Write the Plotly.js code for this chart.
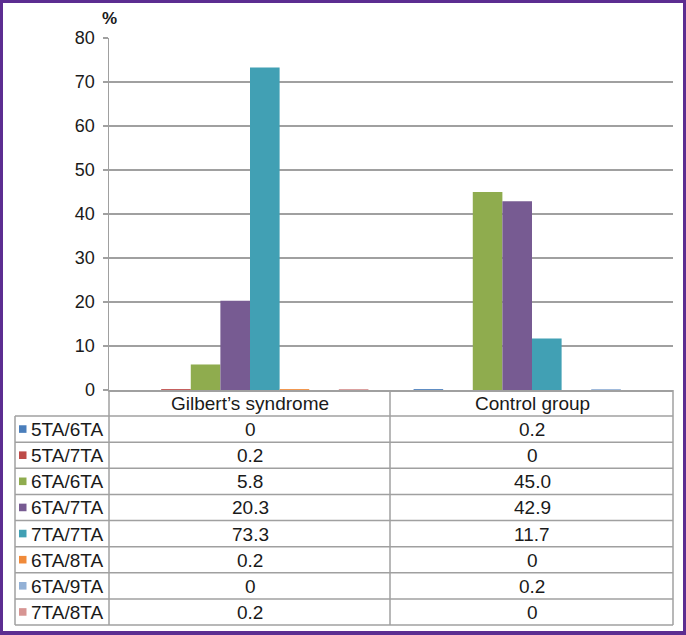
<!DOCTYPE html>
<html>
<head>
<meta charset="utf-8">
<script src="https://cdn.plot.ly/plotly-3.0.1.min.js"></script>
<style>
  html, body { margin: 0; padding: 0; background: #fff; }
  #frame { width: 680px; height: 628px; border-style: solid; border-color: #5c2d91; border-width: 3px 3px 4px 3px; }
  #chart { width: 680px; height: 628px; }
</style>
</head>
<body>
<div id="frame"><div id="chart"></div></div>
<script>
// ---- data ----
const categories = ["Gilbert\u2019s syndrome", "Control group"];
const genotypes = ["5TA/6TA", "5TA/7TA", "6TA/6TA", "6TA/7TA", "7TA/7TA", "6TA/8TA", "6TA/9TA", "7TA/8TA"];
const gilbertValues = [0, 0.2, 5.8, 20.3, 73.3, 0.2, 0, 0.2];
const controlValues = [0.2, 0, 45.0, 42.9, 11.7, 0, 0.2, 0];
const colors = ["#4a7ebb", "#be4b48", "#8fac4e", "#775b92", "#41a0b4", "#f08a3a", "#93b1d6", "#d79593"];
const yTicks = [0, 10, 20, 30, 40, 50, 60, 70, 80];

// ---- geometry (plotly pixel space) ----
const FW = 680, FH = 628;
const L = 106, T = 35, W = 564, H = 352;
const OFF = 3; // css border offset
const fx = px => (px - OFF - L) / W;
const fy = py => 1 - (py - OFF - T) / H;

const FONT = "Liberation Sans, Arial, sans-serif";
const TXT = "#1a1a1a";
const LINE = "#a0a0a0";
const TFS = 19;

const traces = genotypes.map((g, i) => ({
  type: "bar",
  name: g,
  x: categories,
  y: [gilbertValues[i], controlValues[i]],
  marker: { color: colors[i], line: { width: 0 } },
  hoverinfo: "name+y"
}));

// table geometry (page px)
const tLeft = 15, tAxis = 109, tMid = 390, tRight = 673;
const headTop = 390, rowTop = 416, rowH = 26.125;
const nRows = genotypes.length;
const tBottom = rowTop + rowH * nRows;

const shapes = [];
const line = (x0, y0, x1, y1) => shapes.push({
  type: "line", xref: "paper", yref: "paper",
  x0: fx(x0), y0: fy(y0), x1: fx(x1), y1: fy(y1),
  line: { color: LINE, width: 1.5 }
});
for (let r = 0; r <= nRows; r++) line(tLeft, rowTop + r * rowH, tRight, rowTop + r * rowH);
line(tLeft, rowTop, tLeft, tBottom);
line(tAxis, headTop, tAxis, tBottom);
line(tMid, headTop, tMid, tBottom);
line(tRight, headTop, tRight, tBottom);

const annotations = [];
annotations.push({
  xref: "paper", yref: "paper", x: fx(109), y: fy(18.5),
  text: "<b>%</b>", showarrow: false, xanchor: "center", yanchor: "middle",
  font: { family: FONT, size: 17, color: TXT }
});
categories.forEach((c, j) => annotations.push({
  xref: "x", yref: "paper", x: c, y: fy(403),
  text: c, showarrow: false, xanchor: "center", yanchor: "middle",
  font: { family: FONT, size: TFS, color: TXT }
}));
const fmt = v => v === 0 ? "0" : v.toFixed(1);
genotypes.forEach((g, r) => {
  const cy = rowTop + rowH * (r + 0.5);
  shapes.push({
    type: "rect", xref: "paper", yref: "paper",
    x0: fx(19), x1: fx(26.5), y0: fy(cy - 3.8), y1: fy(cy + 3.8),
    fillcolor: colors[r], line: { width: 0 }
  });
  annotations.push({
    xref: "paper", yref: "paper", x: fx(28.5), y: fy(cy + 0.5),
    text: g, showarrow: false, xanchor: "left", yanchor: "middle",
    font: { family: FONT, size: TFS, color: TXT }
  });
  [gilbertValues[r], controlValues[r]].forEach((v, j) => annotations.push({
    xref: "x", yref: "paper", x: categories[j], y: fy(cy + 0.5),
    text: fmt(v), showarrow: false, xanchor: "center", yanchor: "middle",
    font: { family: FONT, size: TFS, color: TXT }
  }));
});

const layout = {
  width: FW, height: FH,
  margin: { l: L, r: FW - L - W, t: T, b: FH - T - H, pad: 0 },
  paper_bgcolor: "#ffffff", plot_bgcolor: "#ffffff",
  showlegend: false,
  barmode: "group", bargap: 0.16, bargroupgap: 0,
  xaxis: {
    type: "category", showticklabels: false, ticks: "",
    showline: true, linecolor: LINE, linewidth: 1.5, showgrid: false, zeroline: false,
    fixedrange: true
  },
  yaxis: {
    range: [0, 80], tickvals: yTicks, ticktext: yTicks.map(String),
    showline: true, linecolor: LINE, linewidth: 1.5,
    ticks: "outside", ticklen: 5, tickcolor: LINE, tickwidth: 1.5,
    showgrid: true, gridcolor: LINE, gridwidth: 1.5, zeroline: false,
    tickfont: { family: FONT, size: 18, color: TXT },
    ticklabelstandoff: 4, fixedrange: true
  },
  shapes, annotations,
  font: { family: FONT, color: TXT }
};

Plotly.newPlot("chart", traces, layout, { displayModeBar: false, staticPlot: true });
</script>
</body>
</html>
